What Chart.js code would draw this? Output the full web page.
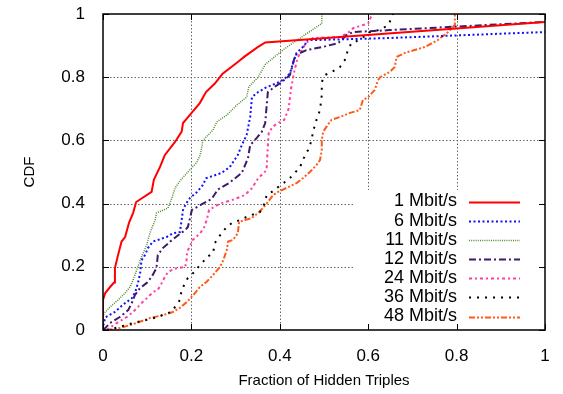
<!DOCTYPE html>
<html>
<head>
<meta charset="utf-8">
<script src="https://cdn.jsdelivr.net/npm/chart.js@4.4.1/dist/chart.umd.min.js"></script>
<style>
  html, body { margin: 0; padding: 0; background: #fff; }
  #plot { display: block; }
</style>
</head>
<body>
<canvas id="plot" width="563" height="394"></canvas>
<script>
// tick values on both axes
const tickValues = [0, 0.2, 0.4, 0.6, 0.8, 1];

const seriesNames = ["1 Mbit/s", "6 Mbit/s", "11 Mbit/s", "12 Mbit/s", "24 Mbit/s", "36 Mbit/s", "48 Mbit/s"];

// CDF curves (x = fraction of hidden triples, y = CDF)
const mbit1X = [0, 0, 0.005, 0.016, 0.025, 0.027, 0.034, 0.042, 0.05, 0.059, 0.068, 0.075, 0.11, 0.115, 0.129, 0.14, 0.163, 0.178, 0.181, 0.19, 0.219, 0.233, 0.253, 0.27, 0.305, 0.32, 0.35, 0.367, 1];
const mbit1Y = [0, 0.095, 0.117, 0.136, 0.15, 0.196, 0.237, 0.28, 0.294, 0.34, 0.37, 0.405, 0.437, 0.475, 0.516, 0.554, 0.595, 0.628, 0.655, 0.67, 0.718, 0.753, 0.78, 0.81, 0.848, 0.865, 0.895, 0.91, 0.975];

const mbit6X = [0, 0, 0.005, 0.027, 0.045, 0.065, 0.073, 0.079, 0.084, 0.087, 0.095, 0.102, 0.113, 0.124, 0.145, 0.158, 0.174, 0.178, 0.181, 0.188, 0.197, 0.213, 0.226, 0.233, 0.268, 0.287, 0.305, 0.314, 0.325, 0.333, 0.337, 0.351, 0.367, 0.382, 0.4, 0.415, 0.423, 0.43, 0.438, 0.457, 0.461, 0.491, 0.649, 1];
const mbit6Y = [0, 0.01, 0.04, 0.057, 0.08, 0.1, 0.12, 0.148, 0.18, 0.22, 0.237, 0.26, 0.28, 0.285, 0.295, 0.306, 0.31, 0.348, 0.38, 0.4, 0.418, 0.437, 0.459, 0.48, 0.497, 0.516, 0.554, 0.585, 0.617, 0.674, 0.737, 0.753, 0.766, 0.775, 0.785, 0.8, 0.813, 0.845, 0.877, 0.902, 0.918, 0.918, 0.924, 0.943];

const mbit11X = [0, 0, 0.003, 0.016, 0.034, 0.05, 0.061, 0.068, 0.084, 0.099, 0.106, 0.118, 0.121, 0.147, 0.156, 0.163, 0.176, 0.192, 0.212, 0.22, 0.226, 0.249, 0.257, 0.28, 0.303, 0.325, 0.33, 0.351, 0.367, 0.407, 0.446, 0.495, 0.495];
const mbit11Y = [0, 0.045, 0.053, 0.073, 0.095, 0.117, 0.136, 0.158, 0.22, 0.27, 0.306, 0.348, 0.37, 0.386, 0.418, 0.449, 0.475, 0.5, 0.53, 0.554, 0.6, 0.633, 0.658, 0.68, 0.712, 0.737, 0.77, 0.8, 0.84, 0.886, 0.924, 0.97, 1];

const mbit12X = [0, 0.005, 0.016, 0.038, 0.057, 0.065, 0.072, 0.084, 0.099, 0.11, 0.121, 0.124, 0.136, 0.152, 0.17, 0.186, 0.192, 0.197, 0.201, 0.22, 0.246, 0.26, 0.285, 0.314, 0.328, 0.333, 0.348, 0.359, 0.367, 0.37, 0.373, 0.389, 0.4, 0.415, 0.423, 0.435, 0.461, 0.498, 0.532, 0.551, 0.566, 0.649, 1];
const mbit12Y = [0, 0.006, 0.022, 0.041, 0.063, 0.085, 0.11, 0.133, 0.149, 0.168, 0.196, 0.237, 0.26, 0.28, 0.3, 0.316, 0.326, 0.354, 0.38, 0.395, 0.415, 0.445, 0.465, 0.497, 0.544, 0.585, 0.608, 0.627, 0.655, 0.706, 0.753, 0.77, 0.78, 0.797, 0.807, 0.87, 0.886, 0.896, 0.908, 0.933, 0.943, 0.949, 0.975];

const mbit24X = [0.008, 0.031, 0.054, 0.068, 0.079, 0.09, 0.102, 0.113, 0.124, 0.133, 0.14, 0.147, 0.163, 0.186, 0.189, 0.19, 0.196, 0.203, 0.22, 0.229, 0.235, 0.24, 0.264, 0.29, 0.321, 0.337, 0.351, 0.37, 0.372, 0.375, 0.39, 0.41, 0.42, 0.425, 0.432, 0.44, 0.452, 0.461, 0.475, 0.536, 0.554, 0.566, 0.577, 0.6, 0.606, 0.61];
const mbit24Y = [0, 0.022, 0.041, 0.057, 0.073, 0.089, 0.104, 0.12, 0.127, 0.149, 0.168, 0.184, 0.194, 0.2, 0.22, 0.247, 0.263, 0.285, 0.306, 0.326, 0.35, 0.38, 0.4, 0.41, 0.427, 0.449, 0.48, 0.506, 0.56, 0.627, 0.65, 0.665, 0.7, 0.76, 0.813, 0.86, 0.892, 0.91, 0.924, 0.927, 0.94, 0.955, 0.96, 0.97, 0.99, 1];

const mbit36X = [0.008, 0.038, 0.068, 0.099, 0.124, 0.144, 0.155, 0.163, 0.174, 0.178, 0.186, 0.192, 0.204, 0.216, 0.226, 0.235, 0.249, 0.253, 0.26, 0.268, 0.28, 0.291, 0.31, 0.325, 0.336, 0.355, 0.362, 0.367, 0.37, 0.382, 0.396, 0.408, 0.419, 0.434, 0.446, 0.452, 0.464, 0.472, 0.475, 0.483, 0.491, 0.495, 0.495, 0.502, 0.517, 0.536, 0.547, 0.554, 0.562, 0.57, 0.585, 0.597, 0.604, 0.627, 0.645, 0.654, 0.656];
const mbit36Y = [0, 0.01, 0.022, 0.032, 0.041, 0.053, 0.057, 0.073, 0.095, 0.127, 0.149, 0.165, 0.18, 0.2, 0.215, 0.231, 0.243, 0.275, 0.29, 0.306, 0.326, 0.338, 0.348, 0.358, 0.364, 0.373, 0.39, 0.405, 0.427, 0.437, 0.452, 0.465, 0.475, 0.497, 0.516, 0.538, 0.57, 0.6, 0.627, 0.665, 0.696, 0.744, 0.785, 0.807, 0.816, 0.832, 0.854, 0.886, 0.908, 0.911, 0.924, 0.933, 0.943, 0.95, 0.965, 0.99, 1];

const mbit48X = [0.008, 0.038, 0.076, 0.106, 0.136, 0.158, 0.174, 0.19, 0.204, 0.219, 0.234, 0.249, 0.265, 0.272, 0.28, 0.283, 0.294, 0.305, 0.308, 0.321, 0.336, 0.351, 0.362, 0.373, 0.385, 0.396, 0.419, 0.438, 0.452, 0.468, 0.483, 0.491, 0.495, 0.495, 0.498, 0.509, 0.517, 0.536, 0.559, 0.581, 0.588, 0.6, 0.615, 0.622, 0.627, 0.648, 0.66, 0.664, 0.683, 0.729, 0.758, 0.781, 0.796, 0.796];
const mbit48Y = [0, 0.006, 0.022, 0.038, 0.047, 0.057, 0.07, 0.089, 0.11, 0.136, 0.152, 0.174, 0.2, 0.22, 0.253, 0.28, 0.285, 0.306, 0.342, 0.348, 0.354, 0.37, 0.386, 0.405, 0.427, 0.437, 0.452, 0.465, 0.48, 0.5, 0.522, 0.538, 0.57, 0.6, 0.627, 0.65, 0.665, 0.674, 0.687, 0.696, 0.728, 0.737, 0.76, 0.79, 0.8, 0.816, 0.832, 0.864, 0.877, 0.896, 0.918, 0.943, 0.965, 1];

const seriesX = [mbit1X, mbit6X, mbit11X, mbit12X, mbit24X, mbit36X, mbit48X];
const seriesY = [mbit1Y, mbit6Y, mbit11Y, mbit12Y, mbit24Y, mbit36Y, mbit48Y];

const lineStyles = [
  { color: "#ff0000", width: 2, dash: [] },
  { color: "#1010ff", width: 2, dash: [2, 2.5] },
  { color: "#4f8a2c", width: 1.5, dash: [1, 1.2] },
  { color: "#3c1a6e", width: 2, dash: [7, 3, 2, 3] },
  { color: "#ff3fa0", width: 2, dash: [3, 3, 2, 3] },
  { color: "#000000", width: 2, dash: [2, 6] },
  { color: "#ff5a1a", width: 2, dash: [6, 2, 2, 2, 2, 2] },
];

const fontFamily = "'Liberation Sans', Arial, Helvetica, sans-serif";

const datasets = seriesNames.map((name, i) => ({
  label: name,
  data: seriesX[i].map((x, j) => ({ x: x, y: seriesY[i][j] })),
  borderColor: lineStyles[i].color,
  borderWidth: lineStyles[i].width,
  borderDash: lineStyles[i].dash,
  showLine: true,
  pointRadius: 0,
  tension: 0,
  fill: false,
}));

// gnuplot look: dotted grid, framed box with inward ticks, key in the lower right
const gnuplotFrame = {
  id: "gnuplotFrame",
  beforeDatasetsDraw(chart) {
    const { ctx, chartArea: a, scales } = chart;
    ctx.save();
    ctx.strokeStyle = "#666";
    ctx.lineWidth = 1;
    ctx.setLineDash([1.5, 2]);
    tickValues.slice(1, -1).forEach((v) => {
      const px = Math.round(scales.x.getPixelForValue(v)) + 0.5;
      ctx.beginPath();
      ctx.moveTo(px, a.top);
      ctx.lineTo(px, a.bottom);
      ctx.stroke();
      const py = Math.round(scales.y.getPixelForValue(v)) + 0.5;
      ctx.beginPath();
      ctx.moveTo(a.left, py);
      ctx.lineTo(a.right, py);
      ctx.stroke();
    });
    // opaque key area
    ctx.fillStyle = "#fff";
    ctx.fillRect(353, 190, a.right - 353, a.bottom - 190);
    ctx.restore();
  },
  afterDatasetsDraw(chart) {
    const { ctx, chartArea: a, scales } = chart;
    ctx.save();
    ctx.setLineDash([]);
    ctx.strokeStyle = "#000";
    ctx.lineWidth = 1.5;
    ctx.strokeRect(a.left, a.top, a.right - a.left, a.bottom - a.top);

    ctx.lineWidth = 1;
    const tl = 6;
    tickValues.forEach((v) => {
      const px = Math.round(scales.x.getPixelForValue(v)) + 0.5;
      const py = Math.round(scales.y.getPixelForValue(v)) + 0.5;
      ctx.beginPath();
      ctx.moveTo(px, a.bottom); ctx.lineTo(px, a.bottom - tl);
      ctx.moveTo(px, a.top); ctx.lineTo(px, a.top + tl);
      ctx.moveTo(a.left, py); ctx.lineTo(a.left + tl, py);
      ctx.moveTo(a.right, py); ctx.lineTo(a.right - tl, py);
      ctx.stroke();
    });

    // key
    ctx.font = "18px " + fontFamily;
    ctx.fillStyle = "#000";
    ctx.textAlign = "right";
    ctx.textBaseline = "middle";
    chart.data.datasets.forEach((ds, i) => {
      const y = 201.5 + i * 19.17;
      ctx.fillText(ds.label, 457, y);
      ctx.strokeStyle = ds.borderColor;
      ctx.lineWidth = ds.borderWidth;
      ctx.setLineDash(ds.borderDash);
      ctx.beginPath();
      ctx.moveTo(469, Math.round(y) + 0.5);
      ctx.lineTo(520, Math.round(y) + 0.5);
      ctx.stroke();
    });

    // axis titles
    ctx.setLineDash([]);
    ctx.font = "15px " + fontFamily;
    ctx.textAlign = "center";
    ctx.fillText("Fraction of Hidden Triples", (a.left + a.right) / 2, 381);
    ctx.translate(30, (a.top + a.bottom) / 2);
    ctx.rotate(-Math.PI / 2);
    ctx.fillText("CDF", 0, 0);
    ctx.restore();
  },
};

Chart.defaults.font.family = fontFamily;
Chart.defaults.font.size = 17;
Chart.defaults.color = "#000";

const tickLabel = (v) => String(+v.toFixed(1));

new Chart(document.getElementById("plot"), {
  type: "scatter",
  data: { datasets: datasets },
  options: {
    responsive: false,
    animation: false,
    devicePixelRatio: 1,
    layout: { padding: { left: 0, right: 18, top: 14, bottom: 0 } },
    plugins: { legend: { display: false }, tooltip: { enabled: false } },
    scales: {
      x: {
        type: "linear",
        min: 0,
        max: 1,
        grid: { display: false },
        border: { display: false },
        afterBuildTicks: (s) => { s.ticks = tickValues.map((v) => ({ value: v })); },
        ticks: { padding: 8, callback: tickLabel, maxRotation: 0 },
        afterFit: (s) => { s.height = 64; s.paddingLeft = 0; s.paddingRight = 0; },
      },
      y: {
        type: "linear",
        min: 0,
        max: 1,
        grid: { display: false },
        border: { display: false },
        afterBuildTicks: (s) => { s.ticks = tickValues.map((v) => ({ value: v })); },
        ticks: { padding: 10, callback: tickLabel },
        afterFit: (s) => { s.width = 103; s.paddingTop = 0; s.paddingBottom = 0; },
      },
    },
  },
  plugins: [gnuplotFrame],
});
</script>
</body>
</html>
